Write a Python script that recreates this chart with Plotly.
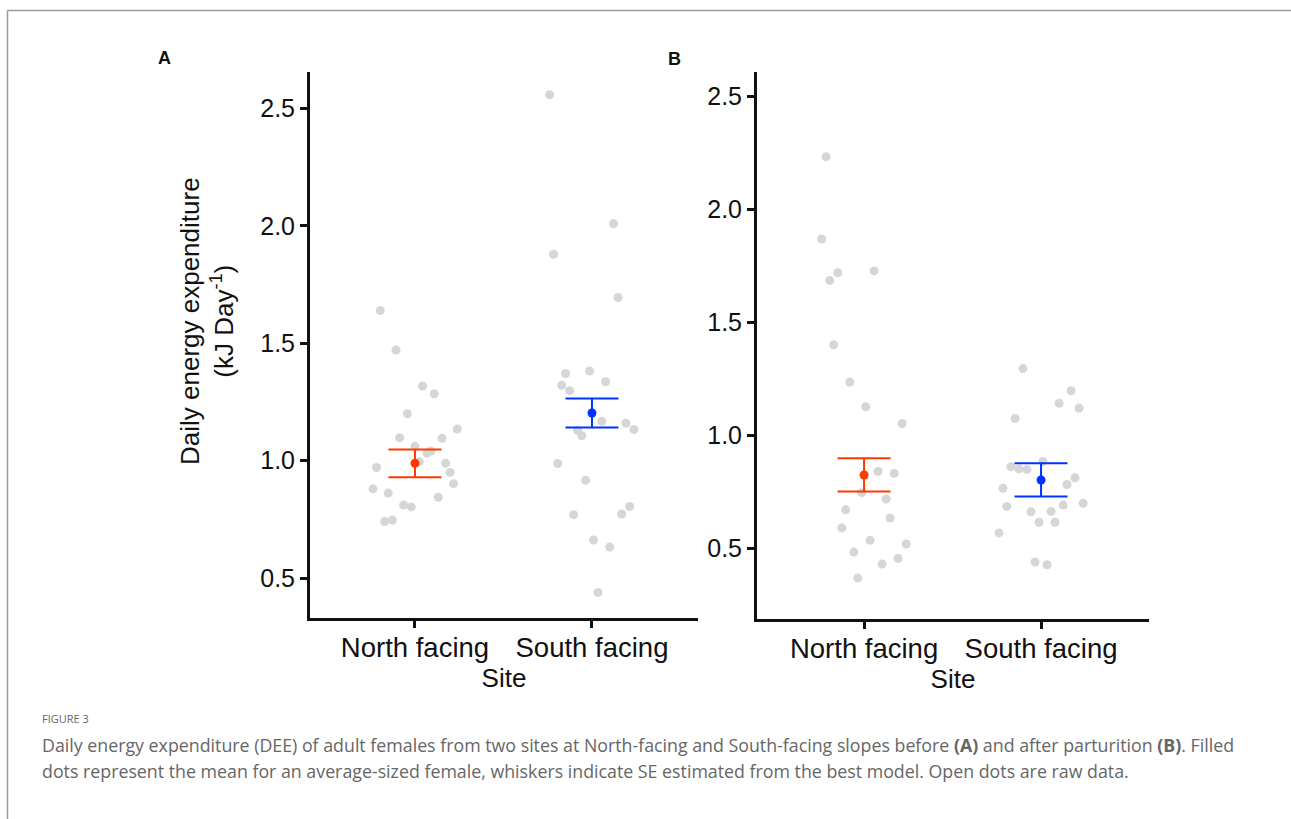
import plotly.graph_objects as go

W, H = 1291, 819

# ---------------- data ----------------
sites = ["North facing", "South facing"]
site_pos = [1, 2]
y_ticks = [0.5, 1.0, 1.5, 2.0, 2.5]

# Panel A (before parturition) raw data
a_north_dee = [1.639, 1.471, 1.318, 1.285, 1.200, 1.135, 1.098, 1.095, 1.061, 1.032, 1.041, 0.995,
               0.971, 0.989, 0.950, 0.902, 0.880, 0.862, 0.844, 0.811, 0.803, 0.741, 0.747]
a_north_jitter = [-0.196, -0.107, 0.043, 0.109, -0.043, 0.239, -0.087, 0.153, 0.000, 0.068, 0.089, 0.024,
                  -0.217, 0.173, 0.198, 0.218, -0.237, -0.151, 0.132, -0.064, -0.021, -0.171, -0.128]
a_south_dee = [2.558, 2.009, 1.879, 1.695, 1.371, 1.382, 1.321, 1.298, 1.336, 1.168, 1.159, 1.133,
               1.129, 1.106, 0.988, 0.917, 0.805, 0.770, 0.773, 0.662, 0.632, 0.439]
a_south_jitter = [-0.239, 0.122, -0.217, 0.147, -0.149, -0.013, -0.171, -0.126, 0.077, 0.055, 0.192, 0.237,
                  -0.081, -0.058, -0.194, -0.036, 0.213, -0.104, 0.168, 0.009, 0.100, 0.034]
a_mean = [0.989, 1.203]
a_se_hi = [1.048, 1.265]
a_se_lo = [0.929, 1.141]

# Panel B (after parturition) raw data
b_north_dee = [2.233, 1.869, 1.720, 1.686, 1.728, 1.401, 1.236, 1.127, 1.053, 0.841, 0.832, 0.747,
               0.719, 0.671, 0.635, 0.591, 0.536, 0.520, 0.484, 0.456, 0.431, 0.369]
b_north_jitter = [-0.215, -0.240, -0.149, -0.194, 0.057, -0.172, -0.081, 0.009, 0.215, 0.079, 0.170, -0.013,
                  0.125, -0.104, 0.147, -0.126, 0.034, 0.238, -0.058, 0.192, 0.102, -0.036]
b_south_dee = [1.296, 1.198, 1.142, 1.121, 1.075, 0.885, 0.862, 0.852, 0.849, 0.813, 0.783, 0.766,
               0.686, 0.692, 0.700, 0.662, 0.664, 0.616, 0.616, 0.569, 0.440, 0.428]
b_south_jitter = [-0.102, 0.170, 0.102, 0.215, -0.147, 0.011, -0.170, -0.125, -0.079, 0.192, 0.147, -0.215,
                  -0.194, 0.125, 0.238, -0.057, 0.057, -0.011, 0.079, -0.238, -0.034, 0.034]
b_mean = [0.825, 0.803]
b_se_hi = [0.899, 0.877]
b_se_lo = [0.752, 0.730]

mean_colors = ["#ff3a00", "#0033ff"]
raw_color = "#d6d6d6"

# ---------------- figure ----------------
fig = go.Figure()


def add_panel(xa, ya, north_y, north_j, south_y, south_j, mean, hi, lo):
    xs = [site_pos[0] + j for j in north_j] + [site_pos[1] + j for j in south_j]
    ys = list(north_y) + list(south_y)
    fig.add_trace(go.Scatter(x=xs, y=ys, mode="markers", xaxis=xa, yaxis=ya,
                             marker=dict(size=9, color=raw_color), showlegend=False,
                             hoverinfo="y"))
    for i in range(2):
        fig.add_trace(go.Scatter(
            x=[site_pos[i]], y=[mean[i]], mode="markers", xaxis=xa, yaxis=ya,
            marker=dict(size=9, color=mean_colors[i]), showlegend=False,
            error_y=dict(type="data", symmetric=False,
                         array=[hi[i] - mean[i]], arrayminus=[mean[i] - lo[i]],
                         color=mean_colors[i], thickness=2, width=26.5)))


add_panel("x", "y", a_north_dee, a_north_jitter, a_south_dee, a_south_jitter, a_mean, a_se_hi, a_se_lo)
add_panel("x2", "y2", b_north_dee, b_north_jitter, b_south_dee, b_south_jitter, b_mean, b_se_hi, b_se_lo)

font_axis = dict(family="Liberation Sans, Arial, sans-serif", size=25, color="#111111")
common_x = dict(showline=True, linecolor="#111111", linewidth=3, ticks="outside", ticklen=7,
                tickwidth=2.5, tickcolor="#111111", showgrid=False, zeroline=False,
                tickvals=site_pos, ticktext=sites, tickfont=dict(font_axis, size=27.5),
                ticklabelstandoff=-4,
                title=dict(text="Site", font=dict(font_axis, size=26), standoff=0))
common_y = dict(showline=True, linecolor="#111111", linewidth=3, ticks="outside", ticklen=7,
                tickwidth=2.5, tickcolor="#111111", showgrid=False, zeroline=False,
                tickvals=y_ticks, ticktext=[f"{v:.1f}" for v in y_ticks], tickfont=font_axis)


def px(v):
    return v / W


def py(v):
    return 1 - v / H


fig.update_layout(
    width=W, height=H, margin=dict(l=0, r=0, t=0, b=0),
    paper_bgcolor="white", plot_bgcolor="white",
    xaxis=dict(common_x, domain=[px(310), px(698)], range=[0.407, 2.599], anchor="y"),
    yaxis=dict(common_y, domain=[py(618), py(72)], range=[0.330, 2.655], anchor="x"),
    xaxis2=dict(common_x, domain=[px(757), px(1149)], range=[0.395, 2.61], anchor="y2"),
    yaxis2=dict(common_y, domain=[py(619), py(72)], range=[0.188, 2.608], anchor="x2"),
)

# y-axis title (panel A)
fig.add_annotation(xref="paper", yref="paper", x=px(207), y=py(321), showarrow=False,
                   text="Daily energy expenditure<br>(kJ Day<sup>-1</sup>)", textangle=-90,
                   font=dict(font_axis, size=26), xanchor="center", yanchor="middle")

# panel letters
fig.add_annotation(xref="paper", yref="paper", x=px(164), y=py(58), showarrow=False, text="<b>A</b>",
                   font=dict(family="Liberation Sans, Arial, sans-serif", size=18, color="#111111"),
                   xanchor="center", yanchor="middle")
fig.add_annotation(xref="paper", yref="paper", x=px(675), y=py(59), showarrow=False, text="<b>B</b>",
                   font=dict(family="Liberation Sans, Arial, sans-serif", size=18, color="#111111"),
                   xanchor="center", yanchor="middle")

# caption
cap_font = "Open Sans, Noto Sans, sans-serif"
fig.add_annotation(xref="paper", yref="paper", x=px(40), y=py(718), showarrow=False, text="FIGURE 3",
                   font=dict(family=cap_font, size=11, color="#666666"), xanchor="left", yanchor="middle")
fig.add_annotation(xref="paper", yref="paper", x=px(40), y=py(745), showarrow=False,
                   text="Daily energy expenditure (DEE) of adult females from two sites at North-facing and "
                        "South-facing slopes before <b>(A)</b> and after parturition <b>(B)</b>. Filled",
                   font=dict(family=cap_font, size=17.8, color="#666666"), xanchor="left", yanchor="middle")
fig.add_annotation(xref="paper", yref="paper", x=px(40), y=py(771), showarrow=False,
                   text="dots represent the mean for an average-sized female, whiskers indicate SE estimated "
                        "from the best model. Open dots are raw data.",
                   font=dict(family=cap_font, size=17.8, color="#666666"), xanchor="left", yanchor="middle")

# card border (top and left edges)
fig.add_shape(type="line", xref="paper", yref="paper", x0=px(7.5), x1=1, y0=py(10.5), y1=py(10.5),
              line=dict(color="#9a9a9a", width=1.5))
fig.add_shape(type="line", xref="paper", yref="paper", x0=px(7.5), x1=px(7.5), y0=py(10.5), y1=0,
              line=dict(color="#9a9a9a", width=1.5))

fig.write_html("out.html", config={"displayModeBar": False},
               post_script="document.body.style.margin='0';document.body.style.overflow='hidden';")
